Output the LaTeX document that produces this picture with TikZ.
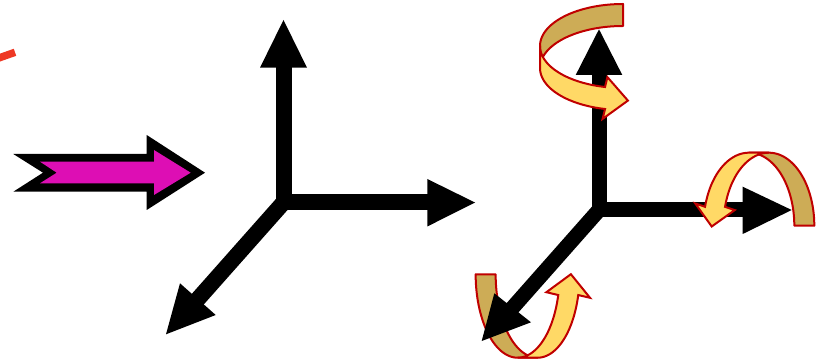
\documentclass[tikz,border=0pt]{standalone}
\definecolor{magentaA}{RGB}{221,14,180}
\definecolor{tanA}{RGB}{205,172,86}
\definecolor{yelA}{RGB}{255,217,102}
\definecolor{redA}{RGB}{192,0,0}
\definecolor{orangeRed}{RGB}{238,56,36}
\begin{document}
\begin{tikzpicture}[x=0.75pt,y=-0.75pt,
  ribbonback/.style={fill=tanA,draw=redA,line width=1.5pt,line join=round},
  ribbonfront/.style={fill=yelA,draw=redA,line width=1.5pt,line join=miter},
  shaftL/.style={line width=12pt},
  shaftR/.style={line width=11.25pt},
  headstyle/.style={fill=black}]
\useasboundingbox (0,0) rectangle (817,363);
\clip (0,0) rectangle (817,363);

% red stroke at top-left
\draw[orangeRed,line width=5.6pt] (-12,61.8) -- (15,52.3);

% magenta block arrow
\fill[black] (13.3,154) -- (146.7,154) -- (146.7,135) -- (205,172.7) -- (146.7,210) -- (146.7,191.7) -- (13.3,191.7) -- (43,172.7) -- cycle;
\fill[magentaA] (40,161.7) -- (154,161.7) -- (154,150) -- (190.7,172.7) -- (154,195) -- (154,183.3) -- (40,183.3) -- (56.7,172.7) -- cycle;

% left axes
\coordinate (O1) at (283.5,202.5);
\draw[shaftL,line join=miter] (283.5,60) -- (O1) -- (435,202.5);
\draw[shaftL,line cap=round] (O1) -- (193.5,304);
\fill[headstyle] (260,67.7) -- (283.5,20) -- (307,67.7) -- cycle;
\fill[headstyle] (427.3,179) -- (475,202.5) -- (427.3,226.5) -- cycle;
\fill[headstyle] (180,283.3) -- (166,334.3) -- (215.7,315) -- cycle;

% right axes: back parts of ribbons
\filldraw[ribbonback] plot[domain=270:180,samples=50] ({623+83*cos(\x)},{46+42*sin(\x)})
  -- plot[domain=180:270,samples=50] ({623+83*cos(\x)},{68+42*sin(\x)}) -- cycle;
\filldraw[ribbonback] plot[domain=360:270,samples=50] ({748.9+45.4*cos(\x)},{225.7+73*sin(\x)})
  -- plot[domain=270:360,samples=50] ({768.9+45.4*cos(\x)},{225.7+73*sin(\x)}) -- cycle;
\filldraw[ribbonback] plot[domain=180:90,samples=50] ({517.6+41.95*cos(\x)},{274.3+83.4*sin(\x)})
  -- plot[domain=90:180,samples=50] ({537.6+41.95*cos(\x)},{274.3+83.4*sin(\x)}) -- cycle;

% right axes
\coordinate (O2) at (599,210);
\draw[shaftR,line join=miter] (599,70) -- (O2) -- (750,210);
\draw[shaftR,line cap=round] (O2) -- (508.6,312.2);
\fill[headstyle] (575.7,75) -- (599,29.3) -- (622.3,75) -- cycle;
\fill[headstyle] (742.7,186.7) -- (791.7,210) -- (742.7,234) -- cycle;
\fill[headstyle] (494.3,293.3) -- (481.7,341) -- (531,322.3) -- cycle;

% front parts of ribbons
\filldraw[ribbonfront] plot[domain=180:102.5,samples=50] ({623+83*cos(\x)},{46+42*sin(\x)})
  -- (607.4,77.1) -- (627.9,100.6) -- (602.6,118.9)
  -- plot[domain=102.5:180,samples=50] ({623+83*cos(\x)},{68+42*sin(\x)}) -- cycle;
\filldraw[ribbonfront] plot[domain=270:195,samples=50] ({748.9+45.4*cos(\x)},{225.7+73*sin(\x)})
  -- (695.3,203.5) -- (711.7,226.5) -- (734.7,210.1)
  -- plot[domain=195:270,samples=50] ({768.9+45.4*cos(\x)},{225.7+73*sin(\x)}) -- cycle;
\filldraw[ribbonfront] plot[domain=90:14.4,samples=50] ({517.6+41.95*cos(\x)},{274.3+83.4*sin(\x)})
  -- (546.4,292.2) -- (570.9,274.2) -- (590,297.8)
  -- plot[domain=14.4:90,samples=50] ({537.6+41.95*cos(\x)},{274.3+83.4*sin(\x)}) -- cycle;
\end{tikzpicture}
\end{document}
